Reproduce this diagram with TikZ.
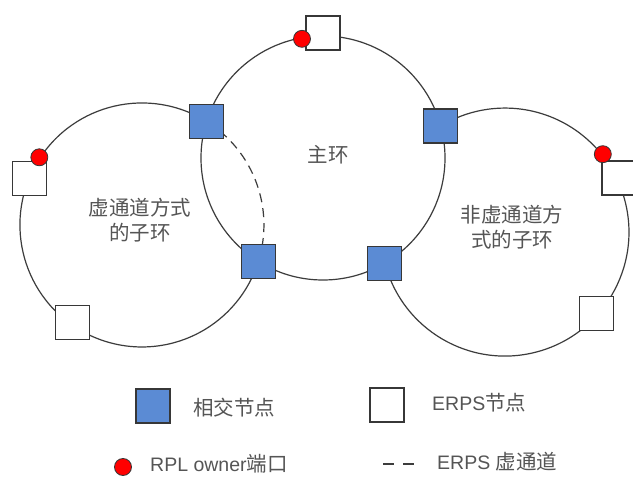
\documentclass[tikz,border=0pt]{standalone}
\usepackage{fontspec}
\setmainfont{Liberation Sans}
\newfontfamily\cjk{Noto Sans CJK SC}
\usetikzlibrary{calc}
\definecolor{jblue}{RGB}{91,139,212}
\definecolor{ringgray}{RGB}{60,60,60}
\definecolor{edgegray}{RGB}{55,55,55}
\definecolor{txtgray}{RGB}{85,85,85}
\definecolor{dotred}{RGB}{255,0,0}
\newcommand\cjkleg{\cjk\fontsize{20.5}{23}\selectfont}

\begin{document}
\begin{tikzpicture}[x=1pt,y=1pt,
  ring/.style={draw=ringgray, line width=1.2pt},
  vchan/.style={ring, dash pattern=on 9pt off 6pt},
  jnode/.style={draw=edgegray, fill=jblue, line width=1.1pt, minimum size=34pt, inner sep=0pt},
  enode/.style={draw=edgegray, fill=white, line width=1.1pt, minimum size=34pt, inner sep=0pt},
  owner/.style={circle, draw=edgegray, fill=dotred, line width=0.8pt, minimum size=17pt, inner sep=0pt},
  ringtext/.style={text=txtgray, font=\cjk\fontsize{20.5}{25}\selectfont, align=center, inner sep=0pt},
  legtext/.style={text=txtgray, font=\fontsize{19.5}{23}\selectfont, anchor=west, inner sep=0pt},
  legdash/.style={draw=ringgray, line width=1.2pt, dash pattern=on 11pt off 9pt}
]
\fill[white] (0,0) rectangle (633,477);
\useasboundingbox (0,0) rectangle (633,477);

% ring centres
\coordinate (M) at (323,319);
\coordinate (L) at (142,252);
\coordinate (R) at (505,245);

% intersection points of the rings
\coordinate (x1) at ($(M)+(162.6:122)$);
\coordinate (x2) at ($(M)+(238.0:122)$);
\coordinate (x3) at ($(M)+(300.5:122)$);
\coordinate (x4) at ($(M)+(15.2:122)$);

% main ring
\draw[ring] (M) circle[radius=122];
% sub-ring with virtual channel
\draw[ring] (x1) arc[start angle=58, end angle=342.6, radius=122];
\draw[vchan] (x2) arc[start angle=-17.4, end angle=58, radius=122];
% sub-ring without virtual channel
\draw[ring] (x3) arc[start angle=194.5, end angle=481.2, radius=124];

% intersection nodes
\node[jnode] (j1) at (x1) {};
\node[jnode] (j2) at (x2) {};
\node[jnode] (j3) at (x3) {};
\node[jnode] (j4) at (x4) {};

% ERPS nodes
\node[enode] (e1) at (323,444) {};
\node[enode] (e2) at ($(L)+(157.4:122)$) {};
\node[enode] (e3) at ($(L)+(234.6:120)$) {};
\node[enode] (e4) at (619,299) {};
\node[enode] (e5) at ($(R)+(-41.7:123)$) {};

% RPL owner ports
\node[owner] (o1) at ($(M)+(100:121)$) {};
\node[owner] (o2) at ($(L)+(146.6:123)$) {};
\node[owner] (o3) at ($(R)+(38.5:125)$) {};

% ring labels
\node[ringtext] (tmain) at (328,322) {主环};
\node[ringtext] (tleft) at (140,257) {虚通道方式\\的子环};
\node[ringtext] (tright) at (512,250) {非虚通道方\\式的子环};

% legend
\node[jnode] (lgj) at (153,71) {};
\node[legtext] (lgjt) at (193,69) {\cjkleg 相交节点};
\node[enode] (lge) at (387,72) {};
\node[legtext] (lget) at (432,74) {ERPS{\cjkleg 节点}};
\node[owner] (lgo) at (123,10) {};
\node[legtext] (lgot) at (150,13) {RPL owner{\cjkleg 端口}};
\coordinate (d1) at (383,13);
\coordinate (d2) at (415,13);
\draw[legdash] (d1) -- (d2);
\node[legtext] (lgdt) at (437,15) {ERPS {\cjkleg 虚通道}};
\end{tikzpicture}
\end{document}
